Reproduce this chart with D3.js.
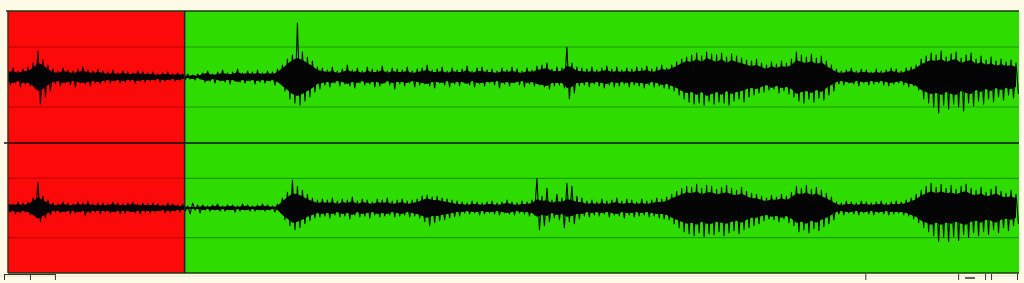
<!DOCTYPE html>
<html>
<head>
<meta charset="utf-8">
<script src="https://cdn.jsdelivr.net/npm/d3@7/dist/d3.min.js"></script>
<style>
  html, body { margin: 0; padding: 0; background: #fdfbe7; overflow: hidden; }
</style>
</head>
<body>
<div id="chart"></div>
<script>
// peak values per block (amplitude units, gridlines at +-30, full scale +-66)
const ch1Hi = [7,9,6,8,10, 14,26,17,12, 8,6,9,7,6,8,10,7,6,8,
  6,5,7,4,6,5,4,6,5,4,5,3,4,5,3,4,3, 3,2,3,
  4,6,3,5,7,4,5,8,4,6,5,7,4,6,5,8, 12,18,22,54,25,20,16,10,
  9,7,10,6,8,12,7,9,6,10,8,7,11,6,9,8,7,10,6,8,9,12,7,8,10,6,9,7,8,11,6,9,10,7,8,6,9,7,10,8,6,9,7,11,
  12,14,8,10,9,30,14,10, 9,8,10,7,9,11,8,10,7,9,8,10,9,11,8,10,12,9,
  12,15,18,20,22,24,21,25,23,22,24,20,23,21,19,17,16,18, 14,12,15,13,16,14,18,
  25,22,20,23,19,21,16,12, 8,6,7,9,6,8,7,5,8,6,7,9,8,6,9,10,12,
  18,21,24,22,26,20,23,25,19,22,24,18,21,17,20,16,18,15,17,14];
const ch1Lo = [8,6,10,7,9, 12,27,20,14, 7,9,6,8,10,6,7,9,6,7,
  5,6,4,6,5,4,6,4,5,4,3,5,4,3,4,3,3, 2,3,2,
  5,4,6,4,5,7,4,5,6,4,7,5,6,4,8,6, 14,22,26,28,24,20,15,12,
  8,10,6,9,7,9,11,6,8,7,10,9,6,8,12,7,9,6,10,8,7,9,11,6,8,10,7,9,6,8,10,7,9,6,8,11,7,9,6,8,10,7,9,8,
  10,12,9,8,11,22,16,9, 8,10,7,9,11,8,10,9,7,10,8,9,11,8,10,9,11,12,
  14,18,22,25,27,26,28,24,27,25,26,28,24,22,25,20,18,16, 15,13,12,16,14,17,20,
  24,26,22,25,21,23,18,14, 7,8,6,7,9,6,8,7,6,8,9,7,6,8,10,9,13,
  22,26,30,36,28,32,27,30,34,26,29,24,27,22,25,20,23,18,21,17];
// dense body of the signal per block (half height)
const ch1Body = [5,6,4,6,6, 9,14,12,8, 5,4,6,5,4,5,6,5,4,5,
  4,3,4,3,4,3,3,4,3,3,3,2,3,3,2,3,2, 1,2,1,
  3,4,2,3,4,3,3,5,3,4,3,4,3,4,3,5, 9,13,17,19,17,14,11,7,
  6,5,6,4,5,7,5,6,4,6,5,5,7,4,6,5,5,6,4,5,6,7,5,5,6,4,6,5,5,7,4,6,6,5,5,4,6,5,6,5,4,6,5,7,
  8,9,6,6,6,11,10,6, 6,5,6,5,6,7,5,6,5,6,5,6,6,7,5,6,8,7,
  9,11,14,16,15,18,15,19,17,15,18,14,17,15,14,12,11,12, 10,8,11,9,11,10,12,
  17,15,14,16,13,15,11,8, 5,4,5,6,4,5,5,4,5,4,5,6,5,4,6,7,9,
  13,15,17,16,18,15,17,18,14,16,17,13,15,12,14,11,13,11,12,10];

const ch2Hi = [5,4,6,5,6, 10,26,12,8, 5,4,6,5,4,6,5,7,4,5,
  5,4,6,5,4,5,6,4,5,4,5,4,3,5,4,3,4, 2,5,3,
  3,2,3,4,2,3,3,2,4,3,2,3,4,3,2,4, 10,16,28,22,18,14,10,8,
  9,8,10,7,9,8,11,7,9,8,6,9,8,10,7,8,9,7,8, 9,12,13,11,12,10,9,8,7,
  6,5,7,6,5,6,7,5,6,8,6,5,7,6,8,30,
  12,20,8,14,10,25,22,12, 10,7,8,6,9,7,8,10,7,9,8,6,9,7,8,10,9,11,
  14,17,20,22,21,24,20,23,22,19,21,23,20,18,21,17,15,14, 12,10,13,11,14,12,16,
  22,20,23,19,21,18,15,11, 6,5,7,6,5,7,6,5,6,7,5,6,7,6,8,10,14,
  18,22,25,21,24,20,23,19,22,24,20,18,21,16,19,22,17,15,18,14];
const ch2Lo = [4,6,5,4,7, 8,14,10,7, 4,5,4,6,5,4,8,5,4,6,
  4,5,4,6,5,4,5,6,4,5,4,3,5,4,3,4,3, 6,2,5,
  2,3,2,3,3,2,4,3,2,3,3,2,3,2,4,3, 12,18,22,20,16,13,10,9,
  8,10,7,9,8,11,7,9,8,10,7,9,8,7,9,8,7,9,8, 10,14,18,15,13,12,10,9,8,
  5,6,5,7,6,5,6,7,5,6,7,5,6,8,7,22,
  18,14,10,12,20,14,16,11, 8,9,7,8,6,9,7,8,10,7,9,8,7,9,8,10,11,12,
  16,20,24,26,28,25,29,26,27,24,28,25,23,26,22,20,18,16, 13,11,12,14,11,15,18,
  24,22,25,21,23,19,16,12, 6,7,5,6,7,5,6,7,5,6,7,6,5,7,8,11,15,
  20,24,28,34,30,34,29,33,27,30,25,28,24,27,22,25,20,23,18,16];
const ch2Body = [4,3,4,3,4, 7,11,8,5, 3,3,4,3,3,4,3,4,3,3,
  3,3,4,3,3,3,4,3,3,3,3,3,2,3,3,2,2, 1,1,1,
  2,1,2,2,1,2,2,1,2,2,1,2,2,2,1,2, 7,11,15,14,12,9,7,5,
  6,5,6,4,6,5,7,4,6,5,4,6,5,6,4,5,6,4,5, 6,8,10,8,8,7,6,5,4,
  4,3,4,4,3,4,4,3,4,5,4,3,4,4,5,9,
  7,8,5,7,6,9,8,6, 6,4,5,4,5,4,5,6,4,5,5,4,5,4,5,6,6,7,
  10,12,14,16,15,17,14,16,16,14,15,16,14,13,15,12,10,10, 8,7,9,8,10,8,11,
  15,14,16,13,15,12,10,7, 4,3,4,4,3,4,4,3,4,4,3,4,4,4,5,7,9,
  13,15,17,15,17,15,16,14,16,17,14,13,15,12,13,15,12,11,12,10];

const gridLevels = [-30, 30];
const selectionEnd = 35.4;          // end of red (selected) region, in blocks
const rulerTicks = [-0.8, 4.4, 9.4, 171.8, 190.4, 195.8, 197, 202.2];

const width = 1024, height = 283;
const left = 8, right = 1019;

const svg = d3.select("#chart").append("svg")
  .attr("width", width)
  .attr("height", height);

svg.append("clipPath").attr("id", "plotclip")
  .append("rect")
  .attr("x", left).attr("y", 11)
  .attr("width", right - left).attr("height", 273 - 11);

const x = d3.scaleLinear()
  .domain([0, ch1Hi.length - 1])
  .range([left, 1016]);

const channels = [
  { hi: ch1Hi, lo: ch1Lo, body: ch1Body, top: 11, bottom: 143 },
  { hi: ch2Hi, lo: ch2Lo, body: ch2Body, top: 143, bottom: 273 }
];

// green background + red selection
svg.append("rect")
  .attr("x", left).attr("y", 11)
  .attr("width", right - left).attr("height", 273 - 11)
  .attr("fill", "#2fdc00");
svg.append("rect")
  .attr("x", left).attr("y", 11)
  .attr("width", x(selectionEnd) - left).attr("height", 273 - 11)
  .attr("fill", "#fc0a0a");

channels.forEach(ch => {
  const y = d3.scaleLinear().domain([-66, 66]).range([ch.bottom, ch.top]);
  const g = svg.append("g").attr("clip-path", "url(#plotclip)");

  // grid lines, darker on each background
  gridLevels.forEach(v => {
    g.append("line")
      .attr("x1", left).attr("x2", x(selectionEnd))
      .attr("y1", y(v)).attr("y2", y(v))
      .attr("stroke", "#c40000").attr("stroke-width", 1.2);
    g.append("line")
      .attr("x1", x(selectionEnd)).attr("x2", right)
      .attr("y1", y(v)).attr("y2", y(v))
      .attr("stroke", "#1c9a00").attr("stroke-width", 1.2);
  });

  // solid body
  const area = d3.area()
    .x((d, i) => x(i))
    .y0(d => y(-d))
    .y1(d => y(d));
  g.append("path")
    .datum(ch.body)
    .attr("d", area)
    .attr("fill", "#050505");

  // peaks as a zig-zag trace
  const pts = [];
  ch.hi.forEach((h, i) => {
    pts.push([i, h]);
    pts.push([i + 0.5, -ch.lo[i]]);
  });
  const line = d3.line()
    .x(d => x(d[0]))
    .y(d => y(d[1]));
  g.append("path")
    .datum(pts)
    .attr("d", line)
    .attr("fill", "none")
    .attr("stroke", "#050505")
    .attr("stroke-width", 1.1)
    .attr("stroke-linejoin", "round");
});

// frame
svg.append("line").attr("x1", 6).attr("x2", right).attr("y1", 11).attr("y2", 11)
  .attr("stroke", "#1a3a10").attr("stroke-width", 1.5);
svg.append("line").attr("x1", 4).attr("x2", right).attr("y1", 143).attr("y2", 143)
  .attr("stroke", "#111").attr("stroke-width", 1.5);
svg.append("line").attr("x1", left).attr("x2", right).attr("y1", 273).attr("y2", 273)
  .attr("stroke", "#1a3a10").attr("stroke-width", 1.5);
svg.append("line").attr("x1", left).attr("x2", left).attr("y1", 11).attr("y2", 273)
  .attr("stroke", "#4a2a20").attr("stroke-width", 1.5);
svg.append("line").attr("x1", x(selectionEnd)).attr("x2", x(selectionEnd)).attr("y1", 11).attr("y2", 273)
  .attr("stroke", "#222").attr("stroke-width", 1.5);

// ruler under the plot
svg.append("line").attr("x1", 0).attr("x2", right).attr("y1", 276).attr("y2", 276)
  .attr("stroke", "#e4e2d4").attr("stroke-width", 1);
const ruler = d3.axisBottom(x).tickValues(rulerTicks).tickSize(6).tickFormat("");
const rg = svg.append("g").attr("transform", "translate(0,274)").call(ruler);
rg.select(".domain").remove();
rg.selectAll(".tick line").attr("stroke", "#333");
svg.append("line").attr("x1", x(rulerTicks[0])).attr("x2", x(rulerTicks[2])).attr("y1", 274.5).attr("y2", 274.5)
  .attr("stroke", "#333");
svg.append("line").attr("x1", 965).attr("x2", 975).attr("y1", 278).attr("y2", 278)
  .attr("stroke", "#333").attr("stroke-width", 1.5);
</script>
</body>
</html>
